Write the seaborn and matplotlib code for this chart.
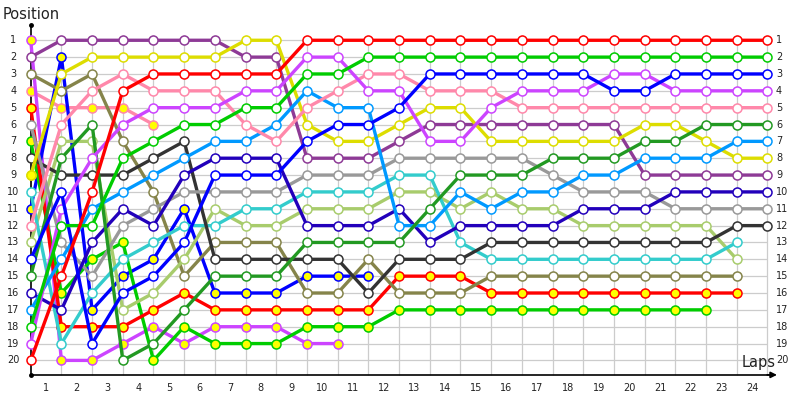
import matplotlib
matplotlib.use("Agg")
import matplotlib.pyplot as plt
import seaborn as sns

laps = list(range(25))  # lap 0 = starting grid

# position after each lap; a shorter list means the car stopped
red_w    = [20, 15, 10, 4, 3, 3, 3, 3, 3, 1, 1, 1, 1, 1, 1, 1, 1, 1, 1, 1, 1, 1, 1, 1, 1]
green_w  = [18, 12, 12, 8, 7, 6, 6, 5, 5, 3, 3, 2, 2, 2, 2, 2, 2, 2, 2, 2, 2, 2, 2, 2, 2]
blue_w   = [14, 10, 19, 16, 15, 13, 9, 9, 9, 7, 6, 6, 5, 3, 3, 3, 3, 3, 3, 4, 4, 3, 3, 3, 3]
violet_w = [19, 11, 8, 6, 5, 5, 5, 4, 4, 2, 2, 4, 4, 7, 7, 5, 4, 4, 4, 3, 3, 4, 4, 4, 4]
pink_w   = [12, 6, 4, 3, 4, 4, 4, 6, 7, 5, 4, 3, 3, 4, 4, 4, 5, 5, 5, 5, 5, 5, 5, 5, 5]
dgreen   = [15, 8, 6, 20, 19, 17, 15, 15, 15, 13, 13, 13, 13, 11, 9, 9, 9, 8, 8, 8, 7, 7, 6, 6, 6]
lblue    = [17, 14, 11, 10, 9, 8, 7, 7, 6, 4, 5, 5, 12, 12, 10, 11, 10, 10, 9, 9, 8, 8, 8, 7, 7]
yellow   = [9, 3, 2, 2, 2, 2, 2, 1, 1, 6, 7, 7, 6, 5, 5, 7, 7, 7, 7, 7, 6, 6, 7, 8, 8]
purple   = [2, 1, 1, 1, 1, 1, 1, 2, 2, 8, 8, 8, 7, 6, 6, 6, 6, 6, 6, 6, 9, 9, 9, 9, 9]
dblue    = [16, 17, 13, 11, 12, 9, 8, 8, 8, 12, 12, 12, 11, 13, 12, 12, 12, 12, 11, 11, 11, 10, 10, 10, 10]
gray     = [6, 13, 15, 12, 11, 10, 10, 10, 10, 9, 9, 9, 8, 8, 8, 8, 8, 9, 10, 10, 10, 11, 11, 11, 11]
black    = [8, 9, 9, 9, 8, 7, 14, 14, 14, 14, 14, 16, 14, 14, 14, 13, 13, 13, 13, 13, 13, 13, 13, 12, 12]
cyan     = [10, 19, 16, 14, 13, 12, 12, 11, 11, 10, 10, 10, 9, 9, 13, 14, 14, 14, 14, 14, 14, 14, 14, 13]
lolive   = [13, 7, 7, 17, 16, 14, 11, 12, 12, 11, 11, 11, 10, 10, 11, 10, 11, 11, 12, 12, 12, 12, 12, 14]
olive    = [3, 4, 3, 7, 10, 15, 13, 13, 13, 16, 16, 14, 16, 16, 16, 15, 15, 15, 15, 15, 15, 15, 15, 15]
red_y    = [5, 18, 18, 18, 17, 16, 17, 17, 17, 17, 17, 17, 15, 15, 15, 16, 16, 16, 16, 16, 16, 16, 16, 16]
green_y  = [7, 16, 14, 13, 20, 18, 19, 19, 19, 18, 18, 18, 17, 17, 17, 17, 17, 17, 17, 17, 17, 17, 17]
blue_y   = [11, 2, 17, 15, 14, 11, 16, 16, 16, 15, 15, 15]
violet_y = [1, 20, 20, 19, 18, 19, 18, 18, 18, 19, 19]
pink_y   = [4, 5, 5, 5, 6]

drivers = [
    (pink_y, "#ff88aa", "#ffff00"),
    (violet_y, "#cc44ff", "#ffff00"),
    (blue_y, "#0000ff", "#ffff00"),
    (green_y, "#00cc00", "#ffff00"),
    (red_y, "#ff0000", "#ffff00"),
    (olive, "#85844a", "white"),
    (lolive, "#a8cc6c", "white"),
    (cyan, "#33cccc", "white"),
    (black, "#333333", "white"),
    (gray, "#999999", "white"),
    (dblue, "#2200bb", "white"),
    (purple, "#8e3a96", "white"),
    (yellow, "#dddd00", "white"),
    (lblue, "#0099ff", "white"),
    (dgreen, "#229922", "white"),
    (pink_w, "#ff88aa", "white"),
    (violet_w, "#cc44ff", "white"),
    (blue_w, "#0000ff", "white"),
    (green_w, "#00cc00", "white"),
    (red_w, "#ff0000", "white"),
]

sns.set_theme(style="white")
plt.rcParams['font.family'] = ['DejaVu Sans']

fig = plt.figure(figsize=(8, 4), dpi=100)
ax = fig.add_axes([0, 0, 1, 1])
ax.set_xlim(-1, 25.06)
ax.set_ylim(22.35, -1.39)
ax.axis('off')

# grid
ax.hlines(range(1, 21), 0, 24, color='#cccccc', lw=0.9, zorder=0)
ax.vlines(range(1, 25), 0.7, 20.86, color='#cccccc', lw=0.9, zorder=0)

# axes with arrows
ax.plot([0, 0], [0.1, 20.86], color='black', lw=1.2, zorder=1)
ax.plot([0, 24.2], [20.86, 20.86], color='black', lw=1.2, zorder=1)
ax.plot([0, 0], [0.1, 20.86], 'o', color='black', ms=2.5, zorder=1)
ax.annotate('', xy=(24.4, 20.86), xytext=(23.9, 20.86),
            arrowprops=dict(arrowstyle='-|>', color='black', lw=1.2,
                            mutation_scale=9))

for pos, color, face in drivers:
    sns.lineplot(x=laps[:len(pos)], y=pos, color=color, lw=2.4,
                 marker='o', markersize=6.5, markerfacecolor=face,
                 markeredgecolor=color, markeredgewidth=1.1,
                 errorbar=None, sort=False, legend=False, ax=ax, clip_on=False)

# the yellow car's grid slot is drawn filled
ax.plot(laps[0], yellow[0], 'o', ms=6.5, mfc='#ffff00', mec='#dddd00', mew=1.1, zorder=3)

ax.set_xlabel('')
ax.set_ylabel('')

# labels
for p in range(1, 21):
    ax.text(-0.56, p, str(p), ha='center', va='center', fontsize=7, color='#222222')
    ax.text(24.28, p, str(p), ha='left', va='center', fontsize=7, color='#222222')
for i in range(1, 25):
    ax.text(i - 0.5, 21.63, str(i), ha='center', va='center', fontsize=7, color='#222222')

ax.text(-0.9, -0.55, 'Position', ha='left', va='center', fontsize=10.5, color='#222222')
ax.text(23.7, 20.15, 'Laps', ha='center', va='center', fontsize=10.5, color='#222222')

fig.savefig('out.png', dpi=100)
